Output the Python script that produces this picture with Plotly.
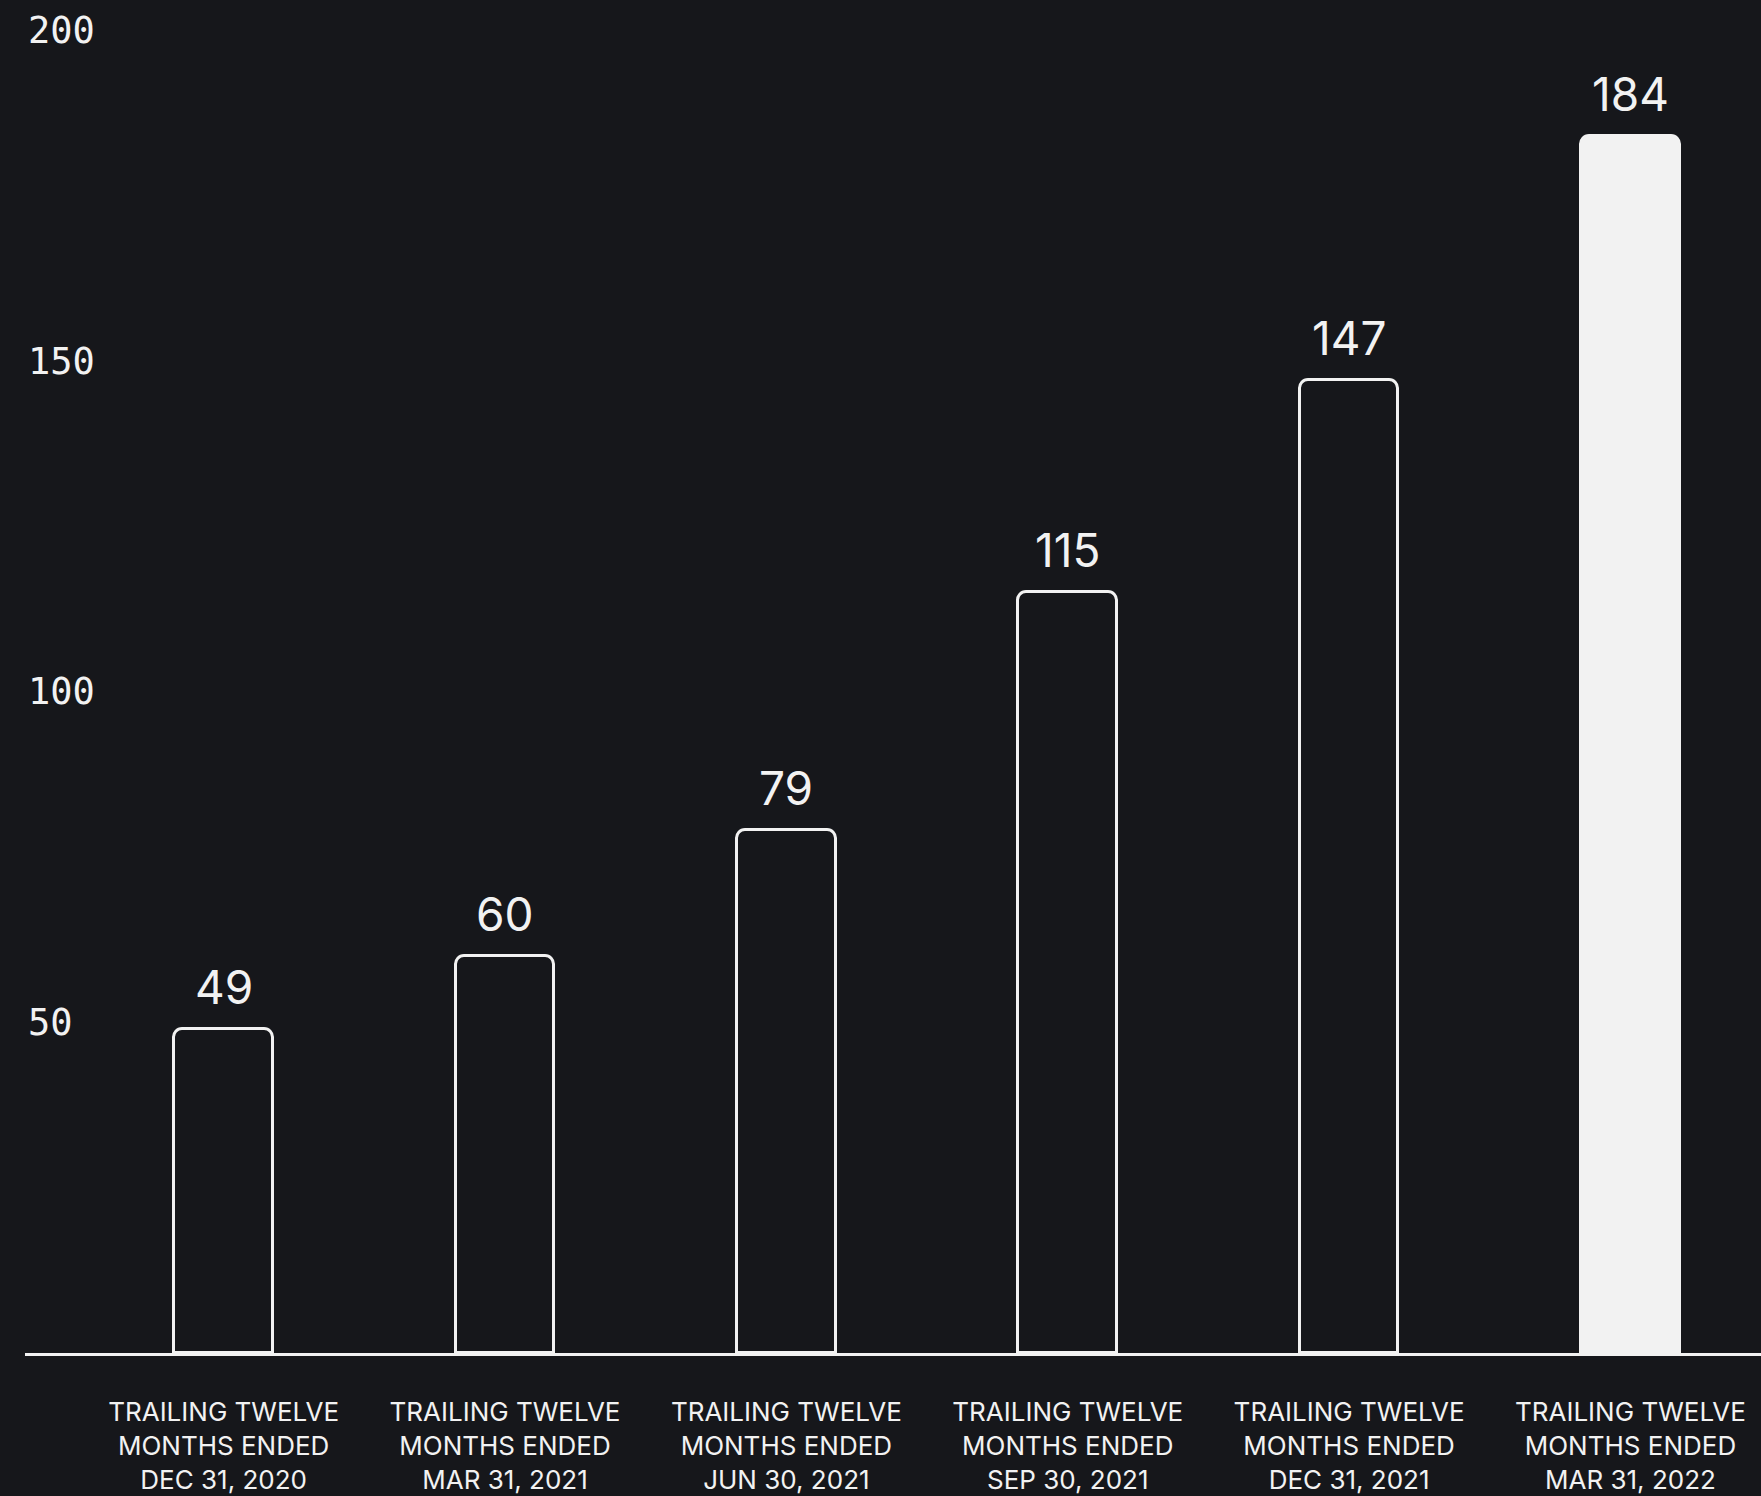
import plotly.graph_objects as go

categories = [
    "TRAILING TWELVE<br>MONTHS ENDED<br>DEC 31, 2020",
    "TRAILING TWELVE<br>MONTHS ENDED<br>MAR 31, 2021",
    "TRAILING TWELVE<br>MONTHS ENDED<br>JUN 30, 2021",
    "TRAILING TWELVE<br>MONTHS ENDED<br>SEP 30, 2021",
    "TRAILING TWELVE<br>MONTHS ENDED<br>DEC 31, 2021",
    "TRAILING TWELVE<br>MONTHS ENDED<br>MAR 31, 2022",
]
values = [49, 60, 79, 115, 147, 184]
y_ticks = [50, 100, 150, 200]

BG = "#16171b"
FG = "#f2f2f2"

fill_colors = [BG] * (len(values) - 1) + [FG]

fig = go.Figure()
fig.add_trace(go.Bar(
    x=categories,
    y=values,
    width=0.35,
    marker=dict(color=fill_colors, line=dict(color=FG, width=3), cornerradius=9),
    hoverinfo="skip",
))

for c, v in zip(categories, values):
    fig.add_annotation(
        x=c, y=v, text=str(v), showarrow=False,
        yanchor="middle", yshift=42,
        font=dict(family="Inter", size=46, color=FG),
    )

fig.update_layout(
    width=1761, height=1496,
    paper_bgcolor=BG, plot_bgcolor=BG,
    margin=dict(l=25, r=0, t=0, b=143),
    showlegend=False,
    bargap=0,
)
fig.update_xaxes(
    type="category",
    range=[-0.706, 5.464],
    showgrid=False, zeroline=False,
    showline=True, linecolor=FG, linewidth=3,
    ticks="outside", ticklen=34, tickcolor="rgba(0,0,0,0)",
    tickfont=dict(family="Inter", size=26, color=FG),
)
fig.update_yaxes(
    range=[0, 204.5],
    tickvals=y_ticks,
    ticktext=[str(t) for t in y_ticks],
    ticklabelposition="inside",
    showgrid=False, zeroline=False, showline=False,
    tickfont=dict(family="DejaVu Sans Mono", size=37, color=FG),
)

fig.write_html(
    "out.html",
    config={"displayModeBar": False},
    post_script="document.body.style.margin='0';document.body.style.background='#16171b';",
)
